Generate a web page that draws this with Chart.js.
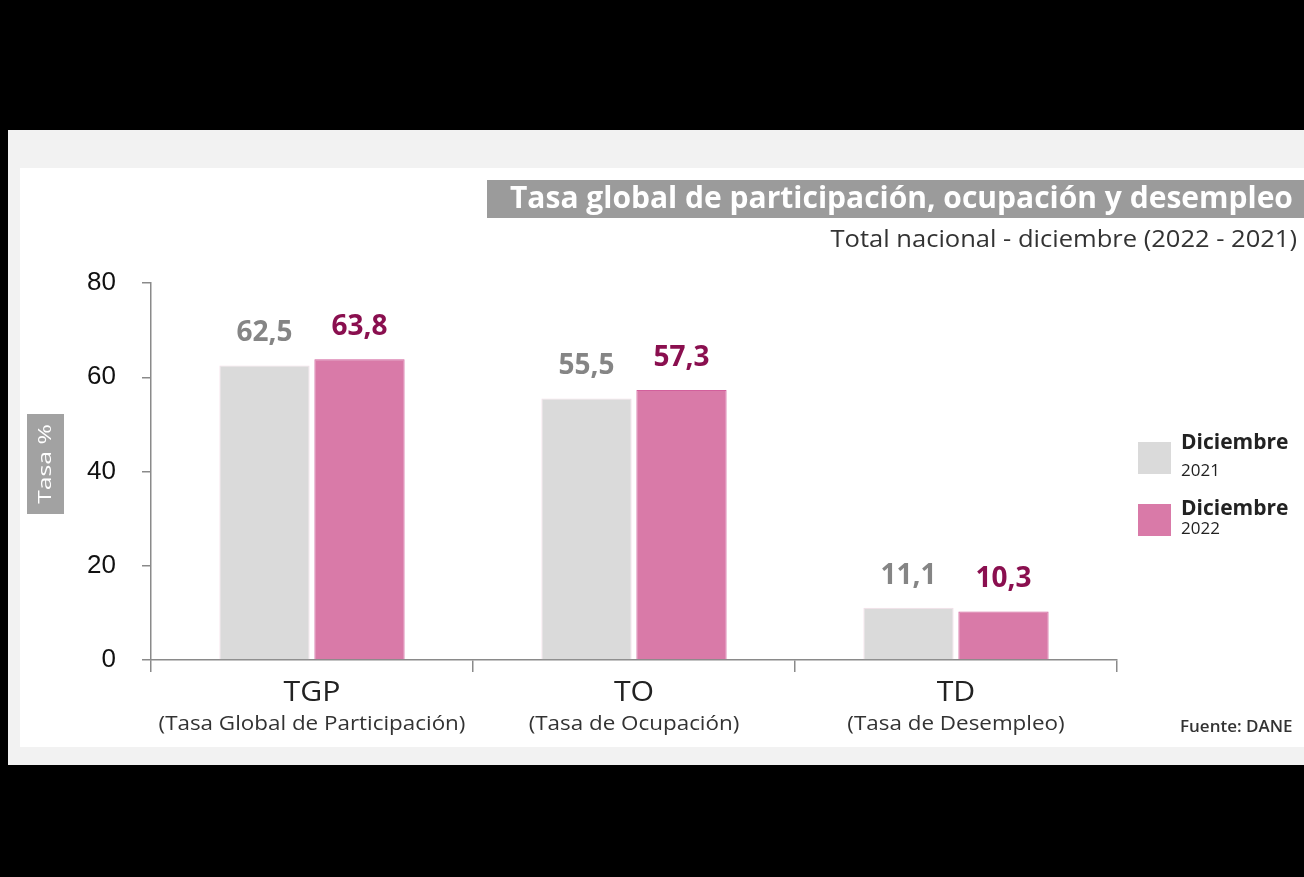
<!DOCTYPE html>
<html>
<head>
<meta charset="utf-8">
<script src="https://cdn.jsdelivr.net/npm/chart.js@4.4.1/dist/chart.umd.min.js"></script>
<style>
  html, body { margin: 0; padding: 0; background: #000; }
  #wrap { position: relative; width: 1304px; height: 877px; }
</style>
</head>
<body>
<div id="wrap"><canvas id="chart"></canvas></div>
<script>
// Values (December 2021 vs December 2022)
const categories = ["TGP", "TO", "TD"]
const categoryNames = ["(Tasa Global de Participación)", "(Tasa de Ocupación)", "(Tasa de Desempleo)"]
const dic2021 = [62.5, 55.5, 11.1]
const dic2022 = [63.8, 57.3, 10.3]
const seriesMonth = ["Diciembre", "Diciembre"]
const seriesYear = ["2021", "2022"]
const yTicks = [0, 20, 40, 60, 80]

const GREY = "#dadada"
const PINK = "#d97aa8"
const labelColors = ["#858585", "#8a0f4f"]
const fmt = (v) => v.toFixed(1).replace(".", ",")

// the source image is a bit wider than the fonts we have, so stretch text horizontally
function stretchText(ctx, text, x, y, sx, align) {
  ctx.save()
  ctx.translate(x, y)
  ctx.scale(sx, 1)
  ctx.textAlign = align
  ctx.fillText(text, 0, 0)
  ctx.restore()
}

// background panels, title, legend and footnote
const frame = {
  id: "frame",
  beforeDraw(chart) {
    const ctx = chart.ctx
    ctx.save()
    ctx.fillStyle = "#000"
    ctx.fillRect(0, 0, chart.width, chart.height)
    ctx.fillStyle = "#f2f2f2"
    ctx.fillRect(8, 130, chart.width - 8, 635)
    ctx.fillStyle = "#fff"
    ctx.fillRect(20, 168, chart.width - 20, 579)

    // title bar
    ctx.fillStyle = "#9b9b9b"
    ctx.fillRect(487, 180, chart.width - 487, 38)
    ctx.fillStyle = "#fff"
    ctx.font = "bold 30px 'Open Sans'"
    ctx.textBaseline = "middle"
    ctx.textAlign = "left"
    ctx.fillText("Tasa global de participación, ocupación y desempleo", 510, 199)
    ctx.fillStyle = "#333"
    ctx.font = "23px 'Open Sans'"
    stretchText(ctx, "Total nacional - diciembre (2022 - 2021)", 1297, 240, 1.11, "right")

    // y axis title
    ctx.fillStyle = "#a2a2a2"
    ctx.fillRect(27, 414, 37, 100)
    ctx.translate(46, 464)
    ctx.rotate(-Math.PI / 2)
    ctx.fillStyle = "#fff"
    ctx.font = "19px 'Open Sans'"
    stretchText(ctx, "Tasa %", 0, 0, 1.3, "center")
    ctx.restore()
  },
  afterDraw(chart) {
    const ctx = chart.ctx
    const x = chart.scales.x
    ctx.save()
    ctx.textBaseline = "middle"
    categories.forEach((c, i) => {
      const px = x.getPixelForValue(i)
      ctx.fillStyle = "#222"
      ctx.font = "28px 'Open Sans'"
      stretchText(ctx, c, px, 693, 1.08, "center")
      ctx.fillStyle = "#333"
      ctx.font = "20px 'Open Sans'"
      stretchText(ctx, categoryNames[i], px, 724, 1.12, "center")
    })

    // value labels
    chart.data.datasets.forEach((ds, di) => {
      const meta = chart.getDatasetMeta(di)
      ctx.fillStyle = labelColors[di]
      ctx.font = "bold 28px 'Open Sans'"
      ctx.textBaseline = "alphabetic"
      ctx.textAlign = "center"
      meta.data.forEach((bar, i) => {
        ctx.fillText(fmt(ds.data[i]), bar.x, bar.y - 24)
      })
    })

    // legend
    const legendTop = [442, 504]
    const monthY = [443, 509]
    const yearY = [471, 529]
    ctx.textAlign = "left"
    ctx.textBaseline = "middle"
    chart.data.datasets.forEach((ds, di) => {
      ctx.fillStyle = ds.backgroundColor
      ctx.fillRect(1138, legendTop[di], 33, 32)
      ctx.fillStyle = "#222"
      ctx.font = "bold 21px 'Open Sans'"
      ctx.fillText(seriesMonth[di], 1181, monthY[di])
      ctx.font = "17px 'Open Sans'"
      ctx.fillText(seriesYear[di], 1181, yearY[di])
    })

    ctx.fillStyle = "#333"
    ctx.font = "600 17px 'Open Sans'"
    ctx.fillText("Fuente: DANE", 1180, 727)
    ctx.restore()
  }
}

new Chart(document.getElementById("chart"), {
  type: "bar",
  data: {
    labels: categories,
    datasets: [
      {
        label: seriesMonth[0] + " " + seriesYear[0],
        data: dic2021,
        backgroundColor: GREY,
        borderColor: "#f3dde8",
        borderWidth: 1
      },
      {
        label: seriesMonth[1] + " " + seriesYear[1],
        data: dic2022,
        backgroundColor: PINK,
        borderColor: "#d2609c",
        borderWidth: 1
      }
    ]
  },
  options: {
    responsive: true,
    maintainAspectRatio: false,
    animation: false,
    layout: { padding: { top: 283, right: 187, bottom: 177, left: 0 } },
    datasets: { bar: { categoryPercentage: 0.59, barPercentage: 0.95 } },
    plugins: {
      legend: { display: false },
      tooltip: { enabled: false }
    },
    scales: {
      x: {
        grid: {
          offset: true,
          drawOnChartArea: false,
          tickLength: 12,
          color: "#8a8a8a",
          lineWidth: 1.5
        },
        border: { display: true, color: "#8a8a8a", width: 1.5 },
        ticks: { display: false },
        afterFit: (scale) => { scale.height = 40 }
      },
      y: {
        min: 0,
        max: 80,
        afterBuildTicks: (scale) => { scale.ticks = yTicks.map((v) => ({ value: v })) },
        grid: {
          drawOnChartArea: false,
          tickLength: 9,
          color: "#8a8a8a",
          lineWidth: 1.5
        },
        border: { display: true, color: "#8a8a8a", width: 1.5 },
        ticks: {
          color: "#111",
          padding: 26,
          font: { family: "'Liberation Sans', Arial, sans-serif", size: 26 }
        },
        afterFit: (scale) => { scale.width = 151 }
      }
    }
  },
  plugins: [frame]
})
</script>
</body>
</html>
